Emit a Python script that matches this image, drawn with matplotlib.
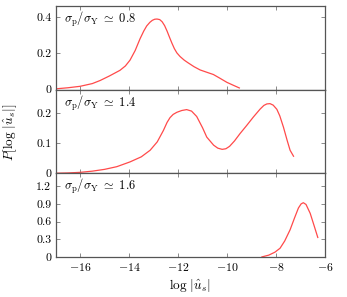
import matplotlib
matplotlib.use("Agg")
import matplotlib.pyplot as plt

plt.rcParams['mathtext.fontset'] = 'cm'
plt.rcParams['font.family'] = 'serif'
plt.rcParams['font.serif'] = ['cmr10', 'DejaVu Serif']
plt.rcParams['axes.formatter.use_mathtext'] = True
plt.rcParams['axes.unicode_minus'] = True

# sigma_p/sigma_Y ~ 0.8
x1 = [-17.0, -16.5, -16.0, -15.5, -15.18, -14.8, -14.37, -14.15, -13.96, -13.75, -13.55, -13.4, -13.28,
      -13.15, -13.05, -12.95, -12.86, -12.75, -12.65, -12.55, -12.45, -12.35, -12.25, -12.15, -12.05,
      -11.92, -11.75, -11.6, -11.35, -11.1, -10.8, -10.56, -10.3, -10.01, -9.75, -9.5]
y1 = [0.004, 0.010, 0.018, 0.033, 0.050, 0.075, 0.106, 0.130, 0.162, 0.215, 0.280, 0.322, 0.350,
      0.370, 0.381, 0.387, 0.388, 0.385, 0.373, 0.352, 0.322, 0.288, 0.255, 0.225, 0.202,
      0.182, 0.162, 0.148, 0.126, 0.108, 0.094, 0.083, 0.063, 0.040, 0.024, 0.009]

# sigma_p/sigma_Y ~ 1.4
x2 = [-17.0, -16.5, -16.0, -15.5, -15.0, -14.5, -13.96, -13.5, -13.14, -12.85, -12.6, -12.45, -12.33,
      -12.2, -12.05, -11.85, -11.65, -11.45, -11.24, -11.0, -10.83, -10.55, -10.38, -10.2, -10.05, -9.9,
      -9.7, -9.47, -9.2, -8.93, -8.65, -8.5, -8.38, -8.25, -8.12, -7.97, -7.85, -7.7, -7.55, -7.43, -7.29]
y2 = [0.0, 0.001, 0.003, 0.007, 0.013, 0.022, 0.038, 0.055, 0.077, 0.105, 0.143, 0.170, 0.186,
      0.197, 0.204, 0.210, 0.213, 0.208, 0.190, 0.152, 0.121, 0.094, 0.084, 0.080, 0.082, 0.090,
      0.108, 0.133, 0.160, 0.188, 0.215, 0.227, 0.232, 0.233, 0.228, 0.214, 0.192, 0.154, 0.110, 0.077, 0.057]

# sigma_p/sigma_Y ~ 1.6
x3 = [-8.58, -8.3, -8.05, -7.84, -7.65, -7.43, -7.25, -7.09, -6.98, -6.89, -6.78, -6.61, -6.45, -6.3]
y3 = [0.0, 0.03, 0.08, 0.147, 0.27, 0.46, 0.66, 0.83, 0.90, 0.92, 0.89, 0.74, 0.53, 0.33]

labels = [r'$\sigma_{\rm p}/\sigma_{\rm Y}\ \simeq\ 0.8$',
          r'$\sigma_{\rm p}/\sigma_{\rm Y}\ \simeq\ 1.4$',
          r'$\sigma_{\rm p}/\sigma_{\rm Y}\ \simeq\ 1.6$']
ylims = [(0, 0.46), (0, 0.28), (0, 1.42)]
yticks = [[0, 0.2, 0.4], [0, 0.1, 0.2], [0, 0.3, 0.6, 0.9, 1.2]]
ytick_labels = [['0', '0.2', '0.4'], ['0', '0.1', '0.2'], ['0', '0.3', '0.6', '0.9', '1.2']]

fig, axes = plt.subplots(3, 1, sharex=True, figsize=(3.47, 2.97), dpi=100)
fig.subplots_adjust(left=0.16, right=0.937, top=0.98, bottom=0.135, hspace=0)

for ax, xs, ys, lab, yl, yt, ytl in zip(axes, [x1, x2, x3], [y1, y2, y3], labels, ylims, yticks, ytick_labels):
    ax.plot(xs, ys, color='#ff4a4a', linewidth=0.9)
    ax.set_xlim(-17, -6)
    ax.set_ylim(*yl)
    ax.set_yticks(yt)
    ax.set_yticklabels(ytl)
    ax.set_xticks([-16, -14, -12, -10, -8, -6])
    ax.tick_params(direction='in', top=True, right=True, labelsize=8.5,
                   length=3, width=0.6, color='#777777', pad=3)
    for sp in ax.spines.values():
        sp.set_color('#555555')
        sp.set_linewidth(0.9)
    ax.text(0.03, 0.95, lab, transform=ax.transAxes, ha='left', va='top', fontsize=9)

axes[2].set_xticklabels([r'$-16$', r'$-14$', r'$-12$', r'$-10$', r'$-8$', r'$-6$'])
axes[2].set_xlabel(r'$\log\,|\hat{u}_s|$', fontsize=9.5, labelpad=3)
fig.text(0.03, 0.555, r'$P[\log\,|\hat{u}_s|]$', rotation=90, ha='center', va='center', fontsize=9.5)

fig.savefig('out.png', dpi=100)
